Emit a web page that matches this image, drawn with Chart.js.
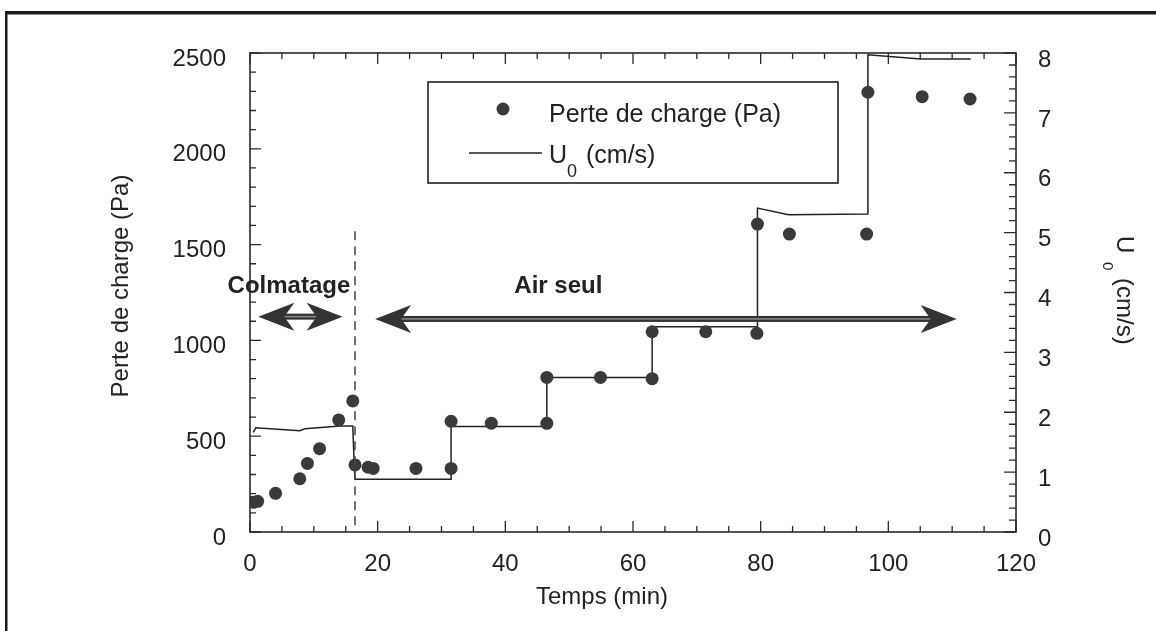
<!DOCTYPE html>
<html><head><meta charset="utf-8">
<script src="https://cdn.jsdelivr.net/npm/chart.js@4.4.1/dist/chart.umd.min.js"></script>
<style>html,body{margin:0;padding:0;background:#fff;}#wrap{width:1156px;height:631px;position:relative}</style>
</head><body><div id="wrap"><canvas id="c" width="1156" height="631"></canvas></div>
<script>
// ---- Data ----
const times  = [0.5, 1.2, 4.0, 7.8, 9.0, 10.9, 13.9, 16.1, 16.45, 18.5, 19.3, 26.0, 31.5, 31.5, 37.8, 46.5, 46.5, 54.9, 63.0, 63.0, 71.4, 79.4, 79.5, 84.5, 96.6, 96.8, 105.3, 112.8];
const pertes = [155, 160, 202, 278, 358, 435, 585, 684, 350, 338, 332, 332, 332, 578, 568, 567, 807, 807, 800, 1045, 1045, 1037, 1607, 1555, 1555, 2295, 2272, 2260];
const uTimes  = [0.5, 0.9, 7.8, 8.6, 14.1, 16.1, 16.3, 16.45, 31.5, 31.5, 46.5, 46.5, 63.0, 63.0, 79.5, 79.5, 84.4, 96.8, 96.8, 105.1, 112.9];
const uValues = [1.665, 1.74, 1.69, 1.725, 1.77, 1.77, 1.2, 0.88, 0.88, 1.76, 1.76, 2.58, 2.58, 3.43, 3.43, 5.41, 5.30, 5.31, 7.97, 7.90, 7.90];

const xTicks  = [0, 20, 40, 60, 80, 100, 120];
const yTicks  = [0, 500, 1000, 1500, 2000, 2500];
const y1Ticks = [0, 1, 2, 3, 4, 5, 6, 7, 8];
const xMinorStep = 5, yMinorStep = 100, y1MinorStep = 0.2;

const xTitle = 'Temps (min)';
const yTitle = 'Perte de charge (Pa)';
const y1TitleMain = 'U', y1TitleSub = '0', y1TitleRest = '(cm/s)';
const legendPoints = 'Perte de charge (Pa)';

// annotations in data units
const annotTexts = [{text: 'Colmatage', x: 6.1, y: 1250}, {text: 'Air seul', x: 48.3, y: 1250}];
const arrows = [{x1: 1.3, x2: 14.5, y: 1124}, {x1: 19.6, x2: 110.7, y: 1112}];
const dashLine = {x: 16.45, y0: 0, y1: 1570};

const FONT = "'Liberation Sans', Arial, Helvetica, sans-serif";
const TXT = '#222';
const AX = '#2a2a2a';

function drawArrow(ctx, xa, xb, y) {
  const L = 36, H = 14, N = 10, S = 6;
  ctx.fillStyle = '#333';
  ctx.fillRect(xa + L - N, y - S / 2, (xb - xa) - 2 * (L - N), S);
  ctx.fillStyle = '#8a8a8a';
  ctx.fillRect(xa + L - N, y - 0.75, (xb - xa) - 2 * (L - N), 1.5);
  ctx.fillStyle = '#333';
  ctx.beginPath();
  ctx.moveTo(xa, y); ctx.lineTo(xa + L, y - H); ctx.lineTo(xa + L - N, y); ctx.lineTo(xa + L, y + H); ctx.closePath(); ctx.fill();
  ctx.beginPath();
  ctx.moveTo(xb, y); ctx.lineTo(xb - L, y - H); ctx.lineTo(xb - L + N, y); ctx.lineTo(xb - L, y + H); ctx.closePath(); ctx.fill();
}

const decor = {
  id: 'decor',
  beforeDraw(chart) {
    const ctx = chart.ctx; ctx.save(); ctx.fillStyle = '#fff'; ctx.fillRect(0, 0, chart.width, chart.height); ctx.restore();
  },
  afterDatasetsDraw(chart) {
    const {ctx, chartArea: a, scales: {x, y, y1}} = chart;
    ctx.save();
    // plot frame
    ctx.strokeStyle = AX; ctx.lineWidth = 1.6;
    ctx.strokeRect(a.left, a.top, a.right - a.left, a.bottom - a.top);
    // ticks
    ctx.lineWidth = 1.3;
    ctx.beginPath();
    for (let v = x.min; v <= x.max + 1e-9; v += xMinorStep) {
      const px = x.getPixelForValue(v);
      const len = (Math.round(v) % 20 === 0) ? 11 : 6;
      ctx.moveTo(px, a.bottom); ctx.lineTo(px, a.bottom - len);
      ctx.moveTo(px, a.top); ctx.lineTo(px, a.top + len);
    }
    for (let v = y.min; v <= y.max + 1e-9; v += yMinorStep) {
      const py = y.getPixelForValue(v);
      const len = (Math.round(v) % 500 === 0) ? 11 : 6;
      ctx.moveTo(a.left, py); ctx.lineTo(a.left + len, py);
    }
    for (let i = 0; i <= Math.round((y1.max - y1.min) / y1MinorStep); i++) {
      const v = y1.min + i * y1MinorStep;
      const py = y1.getPixelForValue(v);
      const len = (i % 5 === 0) ? 12 : 7;
      ctx.moveTo(a.right, py); ctx.lineTo(a.right - len, py);
    }
    ctx.stroke();
    // dashed vertical
    ctx.setLineDash([9, 6]); ctx.strokeStyle = '#444'; ctx.lineWidth = 1.5;
    ctx.beginPath();
    ctx.moveTo(x.getPixelForValue(dashLine.x), y.getPixelForValue(dashLine.y1));
    ctx.lineTo(x.getPixelForValue(dashLine.x), y.getPixelForValue(dashLine.y0));
    ctx.stroke();
    ctx.setLineDash([]);
    // arrows
    arrows.forEach(ar => drawArrow(ctx, x.getPixelForValue(ar.x1), x.getPixelForValue(ar.x2), y.getPixelForValue(ar.y)));
    // annotation text
    ctx.fillStyle = TXT; ctx.font = 'bold 24px ' + FONT; ctx.textAlign = 'center'; ctx.textBaseline = 'alphabetic';
    annotTexts.forEach(t => ctx.fillText(t.text, x.getPixelForValue(t.x), y.getPixelForValue(t.y)));
    // legend
    ctx.fillStyle = '#fff'; ctx.fillRect(428, 82, 410, 101);
    ctx.strokeStyle = '#222'; ctx.lineWidth = 1.6; ctx.strokeRect(428, 82, 410, 101);
    ctx.fillStyle = '#3a3a3a'; ctx.beginPath(); ctx.arc(503, 109, 6.5, 0, Math.PI * 2); ctx.fill();
    ctx.strokeStyle = '#222'; ctx.lineWidth = 1.5; ctx.beginPath(); ctx.moveTo(469, 153); ctx.lineTo(542, 153); ctx.stroke();
    ctx.fillStyle = TXT; ctx.textAlign = 'left'; ctx.textBaseline = 'alphabetic';
    ctx.font = '25px ' + FONT;
    ctx.fillText(legendPoints, 549, 122);
    ctx.fillText('U', 549, 163);
    ctx.fillText('(cm/s)', 586, 163);
    ctx.font = '18px ' + FONT;
    ctx.fillText('0', 567, 177);
    // axis titles
    ctx.font = '24px ' + FONT; ctx.textAlign = 'center'; ctx.textBaseline = 'middle';
    ctx.fillText(xTitle, 602, 597);
    ctx.save(); ctx.translate(121, 286); ctx.rotate(-Math.PI / 2); ctx.fillText(yTitle, 0, 0); ctx.restore();
    ctx.save(); ctx.translate(1117, 236); ctx.rotate(Math.PI / 2);
    ctx.textAlign = 'left'; ctx.textBaseline = 'alphabetic';
    ctx.font = '24px ' + FONT; ctx.fillText(y1TitleMain, 0, 0); ctx.fillText(y1TitleRest, 42, 0);
    ctx.font = '15px ' + FONT; ctx.fillText(y1TitleSub, 26, 14);
    ctx.restore();
    // page frame
    ctx.fillStyle = '#1a1a1a';
    ctx.fillRect(5, 11, 1151, 3.5);
    ctx.fillRect(5, 11, 2.5, 620);
    ctx.restore();
  }
};

const tickFont = {family: FONT, size: 24};
const plain = v => String(v);

new Chart(document.getElementById('c'), {
  type: 'scatter',
  data: {
    datasets: [
      {label: 'Perte de charge (Pa)', data: times.map((t, i) => ({x: t, y: pertes[i]})), yAxisID: 'y',
       pointRadius: 6.5, pointBackgroundColor: '#3a3a3a', pointBorderWidth: 0, showLine: false},
      {label: 'U0 (cm/s)', data: uTimes.map((t, i) => ({x: t, y: uValues[i]})), yAxisID: 'y1',
       showLine: true, borderColor: '#222', borderWidth: 1.5, pointRadius: 0, tension: 0, fill: false}
    ]
  },
  options: {
    responsive: false, animation: false, devicePixelRatio: 1,
    layout: {padding: {top: 53, left: 0, right: 0, bottom: 0}},
    plugins: {legend: {display: false}, tooltip: {enabled: false}},
    scales: {
      x: {type: 'linear', position: 'bottom', min: 0, max: 120,
          afterBuildTicks: s => { s.ticks = xTicks.map(v => ({value: v})); },
          afterFit: s => { s.height = 99; },
          grid: {display: false, drawTicks: false}, border: {display: false},
          ticks: {padding: 18, font: tickFont, color: TXT, maxRotation: 0, autoSkip: false, callback: plain}},
      y: {type: 'linear', position: 'left', min: 0, max: 2500,
          afterBuildTicks: s => { s.ticks = yTicks.map(v => ({value: v})); },
          afterFit: s => { s.width = 250; },
          grid: {display: false, drawTicks: false}, border: {display: false},
          ticks: {padding: 24, labelOffset: 6, font: tickFont, color: TXT, autoSkip: false, callback: plain}},
      y1: {type: 'linear', position: 'right', min: 0, max: 8,
          afterBuildTicks: s => { s.ticks = y1Ticks.map(v => ({value: v})); },
          afterFit: s => { s.width = 140; },
          grid: {display: false, drawTicks: false}, border: {display: false},
          ticks: {padding: 22, labelOffset: 7, font: tickFont, color: TXT, autoSkip: false, callback: plain}}
    }
  },
  plugins: [decor]
});
</script></body></html>
